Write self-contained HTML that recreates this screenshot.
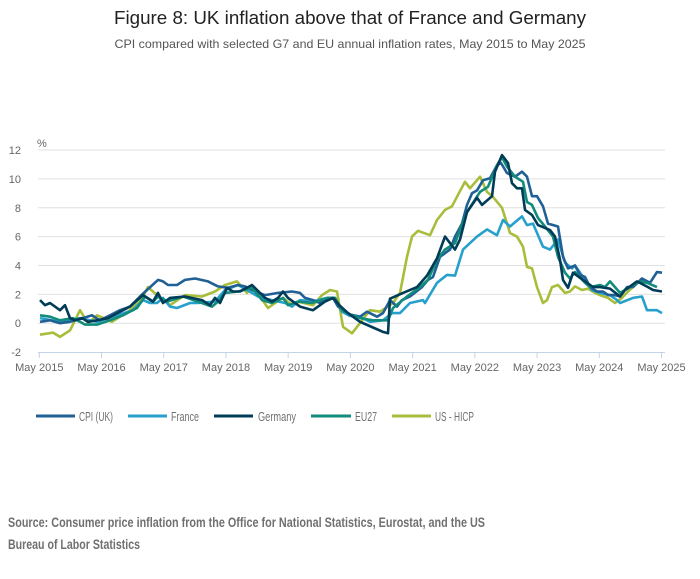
<!DOCTYPE html>
<html><head><meta charset="utf-8"><style>
body{margin:0;background:#fff;width:700px;height:574px;overflow:hidden;font-family:"Liberation Sans",sans-serif}
</style></head><body>
<svg width="700" height="574" xmlns="http://www.w3.org/2000/svg" font-family="Liberation Sans, sans-serif">
<text x="350" y="24" text-anchor="middle" font-size="18.5" fill="#222" textLength="472" lengthAdjust="spacingAndGlyphs">Figure 8: UK inflation above that of France and Germany</text>
<text x="350" y="48" text-anchor="middle" font-size="12" fill="#555" textLength="471" lengthAdjust="spacingAndGlyphs">CPI compared with selected G7 and EU annual inflation rates, May 2015 to May 2025</text>
<g id="grid" stroke="#e0e0e0" stroke-width="1"></g>
<g id="ylab" font-size="11" fill="#666" text-anchor="end"></g>
<text x="37" y="147" font-size="11" fill="#666">%</text>
<line x1="38" y1="352.5" x2="665" y2="352.5" stroke="#c5d3e8" stroke-width="1"/>
<g id="xlab" font-size="11" fill="#666" text-anchor="middle"></g>
<g id="series" fill="none" stroke-width="2.6" stroke-linejoin="round"></g>
<g font-size="13" fill="#707070">
<line x1="36" y1="416" x2="75" y2="416" stroke="#206095" stroke-width="3"/><text x="79" y="421" textLength="34" lengthAdjust="spacingAndGlyphs">CPI (UK)</text>
<line x1="128" y1="416" x2="167" y2="416" stroke="#27a0cc" stroke-width="3"/><text x="171" y="421" textLength="28" lengthAdjust="spacingAndGlyphs">France</text>
<line x1="214" y1="416" x2="253" y2="416" stroke="#003c57" stroke-width="3"/><text x="258" y="421" textLength="38" lengthAdjust="spacingAndGlyphs">Germany</text>
<line x1="311" y1="416" x2="351" y2="416" stroke="#118c7b" stroke-width="3"/><text x="355" y="421" textLength="22" lengthAdjust="spacingAndGlyphs">EU27</text>
<line x1="392" y1="416" x2="431" y2="416" stroke="#a8bd3a" stroke-width="3"/><text x="435" y="421" textLength="39" lengthAdjust="spacingAndGlyphs">US - HICP</text>
</g>
<text x="8" y="527" font-size="13.5" font-weight="bold" fill="#707070" textLength="477" lengthAdjust="spacingAndGlyphs">Source: Consumer price inflation from the Office for National Statistics, Eurostat, and the US</text>
<text x="8" y="549" font-size="13.5" font-weight="bold" fill="#707070" textLength="132" lengthAdjust="spacingAndGlyphs">Bureau of Labor Statistics</text>
</svg>
<script>
var NS="http://www.w3.org/2000/svg";
function X(m){return 39.3+m*5.185;}
function Y(v){return 323.2-v*14.43;}
function el(t,a,p,txt){var e=document.createElementNS(NS,t);for(var k in a)e.setAttribute(k,a[k]);if(txt!=null)e.textContent=txt;document.getElementById(p).appendChild(e);}
for(var v=0;v<=12;v+=2){el('line',{x1:38,x2:665,y1:Y(v),y2:Y(v)},'grid');}
for(var v=-2;v<=12;v+=2){el('text',{x:21,y:Y(v)+4},'ylab',v);}
for(var i=0;i<=10;i++){var x=X(i*12);el('line',{x1:x,x2:x,y1:352,y2:358,stroke:'#c5d3e8'},'grid');el('text',{x:x,y:371},'xlab','May '+(2015+i));}
function draw(k,c){var d='';k.forEach(function(q,i){d+=(i?'L':'M')+q[0]+' '+Y(q[1]).toFixed(1);});el('path',{d:d,stroke:c},'series');}
var uk=[[40,0.1],[50,0.2],[60,0],[70,0.1],[83,0.35],[92,0.55],[100,0.2],[110,0.55],[120,0.9],[130,1.15],[140,1.85],[147,2.3],[158,3.0],[163,2.9],[168,2.65],[177,2.65],[185,3.0],[195,3.1],[208,2.9],[218,2.55],[228,2.45],[238,2.65],[245,2.55],[255,2.2],[265,1.95],[278,2.1],[292,2.2],[300,2.1],[305,1.75],[313,1.6],[320,1.4],[328,1.75],[333,1.75],[338,1.15],[350,0.6],[360,0.45],[367,0.8],[377,0.45],[383,0.7],[390,1.6],[397,1.15],[402,1.6],[410,1.85],[422,2.5],[428,3.0],[433,3.2],[440,4.6],[450,5.1],[455,6.0],[462,6.9],[467,8.2],[472,9.0],[477,9.2],[483,9.9],[490,10.05],[497,10.95],[501,11.1],[507,10.4],[515,10.15],[522,10.5],[527,10.15],[532,8.8],[537,8.8],[543,8.1],[548,6.9],[558,6.7],[563,4.6],[568,3.8],[575,4.0],[580,3.35],[585,3.2],[590,2.5],[597,2.2],[603,2.2],[608,1.95],[615,1.95],[620,1.85],[627,2.5],[633,2.5],[642,3.1],[650,2.8],[657,3.55],[662,3.5]];
var de=[[40,1.6],[45,1.25],[50,1.4],[60,0.9],[65,1.25],[70,0.35],[75,0.2],[82,0.35],[88,0.1],[97,0.2],[108,0.35],[120,0.8],[130,1.15],[143,1.95],[153,1.5],[158,2.1],[163,1.4],[170,1.75],[185,1.85],[202,1.6],[210,1.25],[215,1.75],[220,1.4],[227,2.45],[233,2.2],[240,2.2],[252,2.65],[265,1.75],[272,1.5],[278,1.75],[283,2.2],[288,1.75],[300,1.15],[313,0.9],[325,1.5],[333,1.75],[340,1.2],[348,0.7],[360,0.1],[373,-0.3],[383,-0.6],[388,-0.7],[390,1.7],[403,2.1],[417,2.5],[427,3.3],[437,4.5],[445,6.0],[455,5.1],[460,5.8],[467,7.7],[477,8.7],[482,8.2],[492,8.8],[495,10.5],[502,11.65],[508,11.1],[512,9.7],[517,9.35],[522,9.35],[525,7.85],[532,7.5],[538,6.8],[550,6.45],[555,6.0],[560,4.4],[563,3.0],[568,2.45],[573,3.5],[587,2.8],[593,2.5],[600,2.5],[610,2.4],[620,1.85],[625,2.3],[637,2.9],[648,2.5],[653,2.3],[662,2.2]];
var eu=[[40,0.55],[50,0.45],[60,0.2],[73,0.35],[80,0.1],[85,-0.1],[97,-0.1],[110,0.2],[123,0.55],[137,1.05],[145,1.85],[153,1.5],[158,1.85],[167,1.5],[183,1.85],[202,1.4],[212,1.15],[218,1.5],[225,2.1],[238,2.2],[252,2.45],[262,1.6],[272,1.4],[283,1.75],[288,1.25],[298,1.5],[312,1.4],[328,1.75],[335,1.75],[342,0.9],[350,0.6],[360,0.35],[373,0.2],[388,0.2],[393,1.05],[407,1.85],[420,2.5],[428,3.0],[437,4.4],[445,5.1],[455,5.55],[467,7.7],[480,9.1],[488,9.45],[497,10.95],[502,11.5],[507,10.85],[515,10.15],[523,9.8],[527,8.4],[532,8.2],[538,7.3],[545,6.7],[553,6.0],[558,4.6],[565,3.5],[570,3.1],[575,3.55],[585,2.8],[590,2.5],[600,2.65],[605,2.5],[610,2.9],[620,2.1],[630,2.5],[640,2.9],[647,2.8],[657,2.5]];
var fr=[[40,0.35],[60,0.1],[80,0.35],[97,0.1],[117,0.55],[133,0.9],[143,1.6],[150,1.4],[157,1.4],[163,1.75],[170,1.15],[177,1.05],[190,1.4],[198,1.4],[215,1.5],[225,2.3],[238,2.65],[247,2.3],[258,1.85],[272,1.6],[285,1.4],[292,1.15],[300,1.6],[312,1.5],[327,1.75],[335,1.75],[342,0.8],[350,0.5],[360,0.45],[370,0.1],[383,0.2],[392,0.7],[400,0.7],[410,1.4],[423,1.6],[425,1.4],[437,2.8],[447,3.35],[455,3.3],[463,5.1],[477,6.0],[487,6.5],[497,6.1],[503,7.15],[510,6.7],[522,7.4],[527,6.8],[533,6.9],[543,5.3],[550,5.1],[558,5.8],[565,4.2],[572,3.8],[575,4.0],[585,3.0],[592,2.3],[600,2.1],[610,1.95],[617,1.6],[620,1.4],[633,1.75],[642,1.85],[647,0.9],[657,0.9],[662,0.7]];
var us=[[40,-0.8],[53,-0.65],[60,-0.95],[70,-0.5],[80,0.9],[88,0],[97,0.55],[112,0.1],[130,0.9],[140,1.5],[148,2.5],[157,1.95],[170,1.25],[185,1.95],[202,1.85],[215,2.2],[225,2.65],[237,2.9],[247,2.1],[253,2.55],[268,1.05],[275,1.4],[283,1.75],[292,1.25],[298,1.5],[313,1.25],[322,1.95],[330,2.3],[337,2.2],[343,-0.25],[352,-0.7],[370,0.9],[380,0.8],[393,1.4],[400,2.1],[407,4.6],[412,6.0],[418,6.4],[430,6.1],[437,7.15],[445,7.85],[452,8.1],[458,8.9],[465,9.8],[470,9.35],[480,10.15],[487,9.1],[493,8.75],[502,8.0],[510,6.25],[517,6.0],[523,5.3],[527,3.9],[532,3.8],[537,2.5],[543,1.4],[547,1.6],[552,2.5],[558,2.65],[565,2.1],[570,2.2],[575,2.55],[582,2.3],[588,2.4],[595,2.1],[600,1.95],[608,1.75],[615,1.4],[622,1.75],[628,2.2],[635,2.65]];
draw(us,'#a8bd3a');draw(fr,'#27a0cc');draw(uk,'#206095');draw(eu,'#118c7b');draw(de,'#003c57');
</script>
</body></html>
